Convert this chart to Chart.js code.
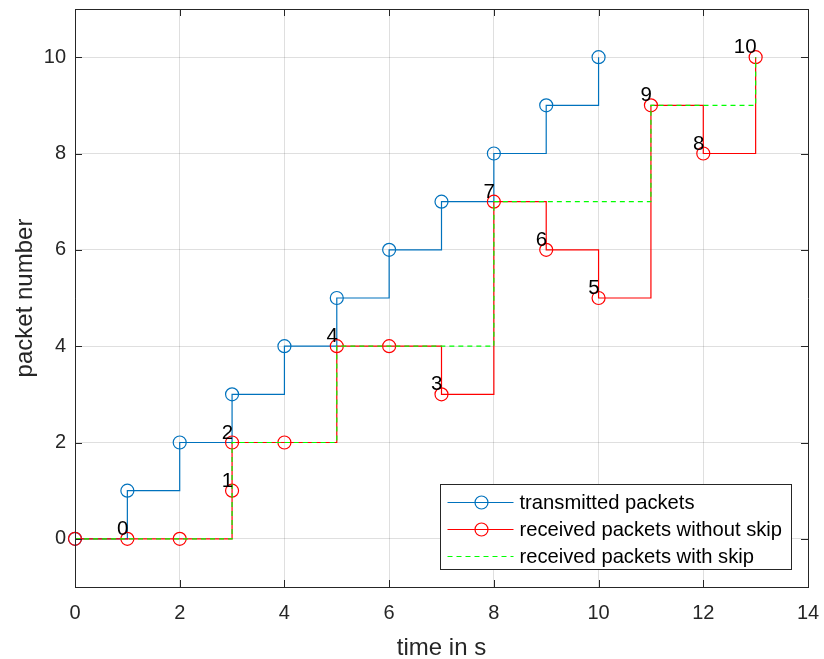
<!DOCTYPE html>
<html lang="en">
<head>
<meta charset="UTF-8">
<title>packets over time</title>
<script src="https://cdn.jsdelivr.net/npm/chart.js"></script>
<style>
  body { margin: 0; background: #fff; }
</style>
</head>
<body>
<canvas id="myChart" width="824" height="659"></canvas>
<script>
const txTime = [0, 1, 2, 3, 4, 5, 6, 7, 8, 9, 10];
const txPacket = [0, 1, 2, 3, 4, 5, 6, 7, 8, 9, 10];
const rxTime = [0, 1, 2, 3, 3, 4, 5, 6, 7, 8, 9, 10, 11, 12, 13];
const rxPacket = [0, 0, 0, 1, 2, 2, 4, 4, 3, 7, 6, 5, 9, 8, 10];
const skipTime = [0, 3, 5, 8, 11, 13];
const skipPacket = [0, 2, 4, 7, 9, 10];
// packet number written next to where it arrives
const labelTime = [1, 3, 3, 7, 5, 10, 9, 8, 12, 11, 13];
const labelPacket = [0, 1, 2, 3, 4, 5, 6, 7, 8, 9, 10];
const xTicks = [0, 2, 4, 6, 8, 10, 12, 14];
const yTicks = [0, 2, 4, 6, 8, 10];
const names = ['transmitted packets', 'received packets without skip', 'received packets with skip'];

const FONT = "'Liberation Sans', Arial, Helvetica, sans-serif";
const AXIS = '#262626';
Chart.defaults.font.family = FONT;
Chart.defaults.color = AXIS;

const pts = (xs, ys) => xs.map((x, i) => ({x: x, y: ys[i]}));

function series(label, data, color, dash, marker, order) {
  return {
    label: label,
    data: data,
    borderColor: color,
    borderWidth: 1.2,
    borderDash: dash,
    stepped: true,
    pointRadius: marker ? 6.5 : 0,
    pointBorderColor: color,
    pointBorderWidth: 1.2,
    pointBackgroundColor: 'rgba(0,0,0,0)',
    order: order,
    clip: 10
  };
}

const frame = {
  id: 'frame',
  afterDraw(chart) {
    const {ctx, chartArea: a, scales: {x, y}} = chart;
    ctx.save();

    // box and inward ticks, matlab style
    ctx.strokeStyle = AXIS;
    ctx.lineWidth = 1;
    ctx.beginPath();
    xTicks.forEach(v => {
      const px = Math.round(x.getPixelForValue(v)) + 0.5;
      ctx.moveTo(px, a.bottom); ctx.lineTo(px, a.bottom - 7);
      ctx.moveTo(px, a.top); ctx.lineTo(px, a.top + 7);
    });
    yTicks.forEach(v => {
      const py = Math.round(y.getPixelForValue(v)) + 0.5;
      ctx.moveTo(a.left, py); ctx.lineTo(a.left + 7, py);
      ctx.moveTo(a.right, py); ctx.lineTo(a.right - 7, py);
    });
    ctx.rect(Math.round(a.left) + 0.5, Math.round(a.top) + 0.5,
             Math.round(a.right - a.left), Math.round(a.bottom - a.top));
    ctx.stroke();

    // packet numbers
    ctx.font = '20.5px ' + FONT;
    ctx.fillStyle = '#000';
    ctx.textAlign = 'right';
    ctx.textBaseline = 'alphabetic';
    labelTime.forEach((t, i) => {
      ctx.fillText(String(labelPacket[i]), x.getPixelForValue(t) + 1, y.getPixelForValue(labelPacket[i]) - 4);
    });

    // legend box
    const bw = 351, bh = 85;
    const bx = Math.round(a.right - 17 - bw) + 0.5;
    const by = Math.round(a.bottom - 18 - bh) + 0.5;
    ctx.fillStyle = '#fff';
    ctx.fillRect(bx, by, bw, bh);
    ctx.strokeStyle = AXIS;
    ctx.lineWidth = 1;
    ctx.strokeRect(bx, by, bw, bh);
    ctx.font = '20.2px ' + FONT;
    ctx.textAlign = 'left';
    ctx.textBaseline = 'middle';
    chart.data.datasets.forEach((ds, i) => {
      const ry = by + 18 + i * 27;
      ctx.strokeStyle = ds.borderColor;
      ctx.lineWidth = ds.borderWidth;
      ctx.setLineDash(ds.borderDash || []);
      ctx.beginPath();
      ctx.moveTo(bx + 7, ry); ctx.lineTo(bx + 73, ry);
      ctx.stroke();
      ctx.setLineDash([]);
      if (ds.pointRadius > 0) {
        ctx.beginPath();
        ctx.arc(bx + 41, ry, ds.pointRadius, 0, Math.PI * 2);
        ctx.stroke();
      }
      ctx.fillStyle = '#000';
      ctx.fillText(names[i], bx + 79, ry + 1);
    });

    ctx.restore();
  }
};

const ctx = document.getElementById('myChart');
const chart = new Chart(ctx, {
  type: 'line',
  data: {
    datasets: [
      series(names[0], pts(txTime, txPacket), '#0072BD', [], true, 3),
      series(names[1], pts(rxTime, rxPacket), '#FF0000', [], true, 2),
      series(names[2], pts(skipTime, skipPacket), '#00FF00', [5, 4], false, 1)
    ]
  },
  options: {
    responsive: false,
    animation: false,
    devicePixelRatio: 1,
    events: [],
    layout: { padding: { left: 0, right: 16, top: 9, bottom: 0 } },
    plugins: { legend: { display: false }, tooltip: { enabled: false } },
    scales: {
      x: {
        type: 'linear',
        min: 0,
        max: 14,
        afterBuildTicks: s => { s.ticks = xTicks.map(v => ({value: v})); },
        afterFit: s => { s.height = 72; s.paddingLeft = 0; s.paddingRight = 0; },
        ticks: { padding: 14, maxRotation: 0, font: { size: 20 } },
        grid: { color: 'rgba(38,38,38,0.15)', drawTicks: false },
        border: { color: AXIS },
        title: { display: true, text: 'time in s', font: { size: 24 }, padding: { top: 0, bottom: -4 } }
      },
      y: {
        type: 'linear',
        min: -1,
        max: 11,
        afterBuildTicks: s => { s.ticks = yTicks.map(v => ({value: v})); },
        afterFit: s => { s.width = 75; s.paddingTop = 0; s.paddingBottom = 0; },
        ticks: { padding: 9, font: { size: 20 } },
        grid: { color: 'rgba(38,38,38,0.15)', drawTicks: false },
        border: { color: AXIS },
        title: { display: true, text: 'packet number', font: { size: 24 }, padding: { top: 10.5, bottom: 0 } }
      }
    }
  },
  plugins: [frame]
});
</script>
</body>
</html>
